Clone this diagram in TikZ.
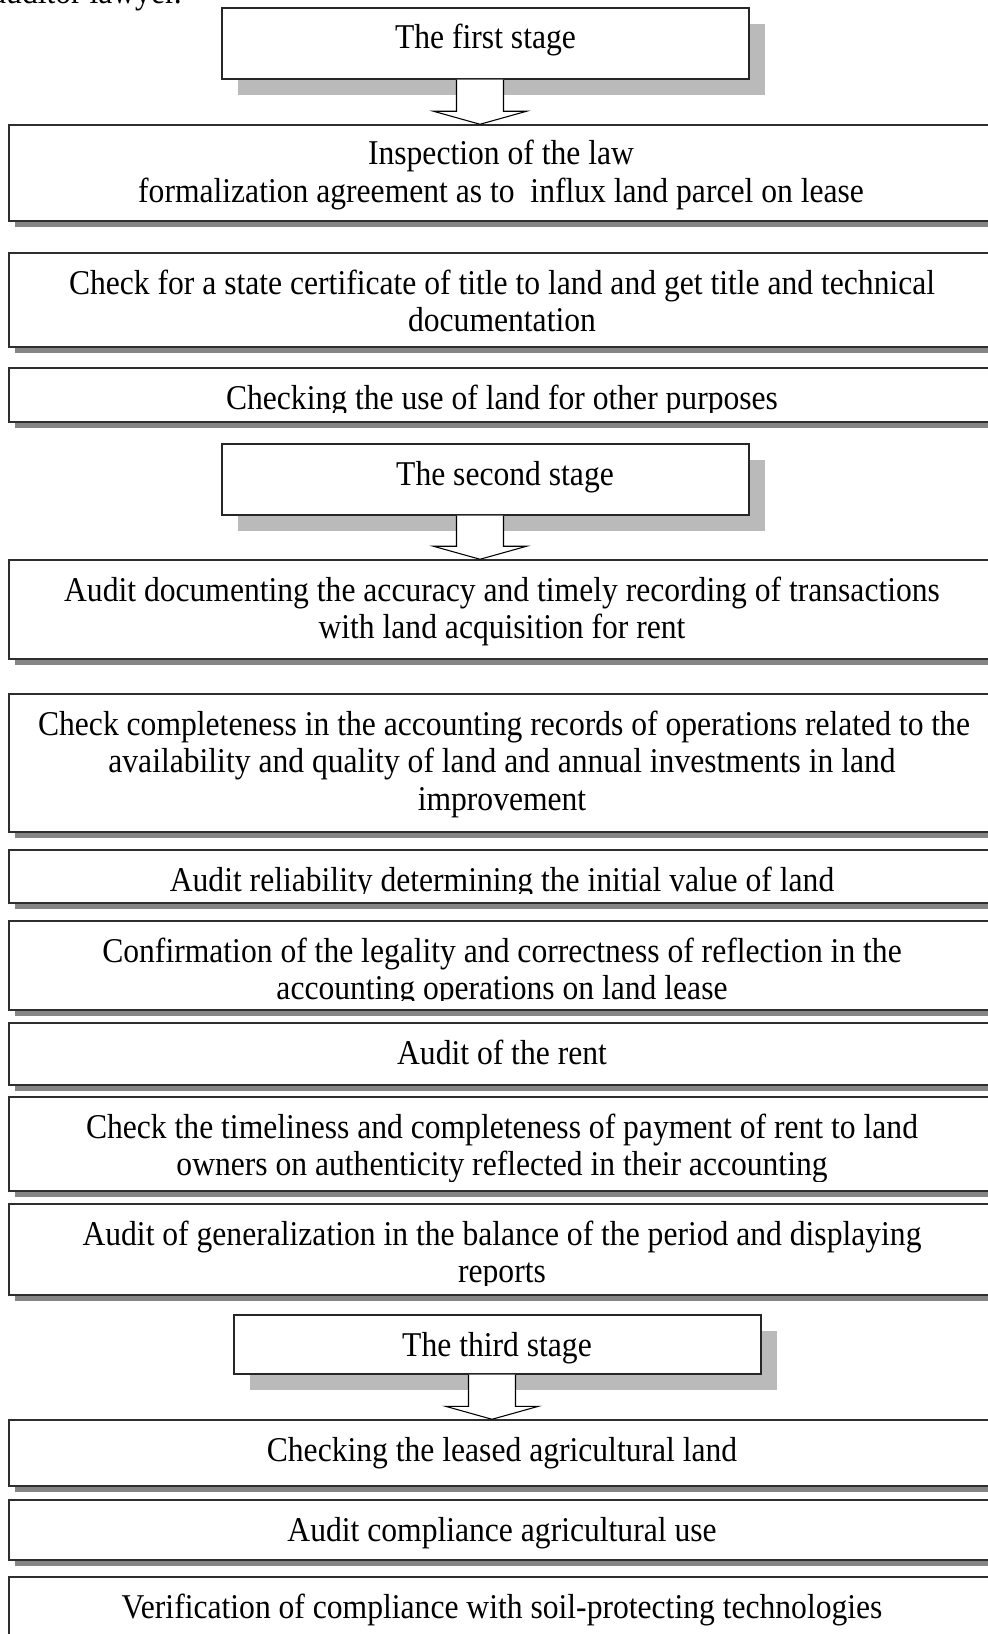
\documentclass[tikz,border=0pt]{standalone}
\usepackage{fontspec}
\setmainfont{Liberation Serif}
\usepackage{graphicx}
\usetikzlibrary{fit,calc,shadows}
\newcommand\vs[1]{\scalebox{1}[1.1]{#1}}
\newcommand\blockarrow[2]{%
  \draw[blockarr] ($(#1)+(-23.5,0)$) -- ($(#2)+(-23.5,-13)$) -- ($(#2)+(-46.5,-13)$) -- (#2)
    -- ($(#2)+(46.5,-13)$) -- ($(#2)+(23.5,-13)$) -- ($(#1)+(23.5,0)$);}
\tikzset{
  mainbox/.style={draw=black!82, line width=1.1pt, fill=white, inner sep=0pt,
    general shadow={fill=black!48, shadow xshift=4.5pt, shadow yshift=-4.5pt}},
  stagebox/.style={draw=black!85, line width=1pt, fill=white, inner sep=0pt,
    general shadow={fill=black!27, shadow xshift=12pt, shadow yshift=-12pt}},
  txt/.style={inner sep=0pt, anchor=base, font=\fontsize{23.7pt}{28pt}\selectfont},
  blockarr/.style={draw=black, line width=0.8pt, fill=white, line join=miter},
}
\begin{document}
\begin{tikzpicture}[x=0.75pt, y=-0.75pt]
\useasboundingbox (0,0) rectangle (988,1634);
\clip (0,0) rectangle (988,1634);

\node[txt, anchor=base east] (t0) at (182,4) {\vs{auditor lawyer.}};

% ---------- first stage ----------
\node[stagebox, fit={(222,8) (749,79)}] (s1) {};
\node[txt] (ts1) at (485.5,49) {\vs{The first stage}};

\node[mainbox, fit={(9,125) (997,221)}] (b1) {};
\begin{scope}\clip (9,125) rectangle (997,211);
\node[txt] (t1a) at (501,165) {\vs{Inspection of the law}};
\node[txt] (t1b) at (501,202.5) {\vs{formalization agreement as to\ \ influx land parcel on lease}};
\end{scope}
\coordinate (a1top) at ($(s1.south)+(-5.5,0)$);
\coordinate (a1tip) at (a1top |- b1.north);
\blockarrow{a1top}{a1tip}

\node[mainbox, fit={(9,253) (997,347)}] (b2) {};
\begin{scope}\clip (9,253) rectangle (997,337);
\node[txt] (t2a) at (502,294) {\vs{Check for a state certificate of title to land and get title and technical}};
\node[txt] (t2b) at (502,331.5) {\vs{documentation}};
\end{scope}

\node[mainbox, fit={(9,368) (997,422)}] (b3) {};
\begin{scope}\clip (9,368) rectangle (997,412);
\node[txt] (t3a) at (502,409) {\vs{Checking the use of land for other purposes}};
\end{scope}

% ---------- second stage ----------
\node[stagebox, fit={(222,444) (749,515)}] (s2) {};
\node[txt] (ts2) at (505,485) {\vs{The second stage}};

\node[mainbox, fit={(9,560) (997,659)}] (b4) {};
\begin{scope}\clip (9,560) rectangle (997,649);
\node[txt] (t4a) at (502,601) {\vs{Audit documenting the accuracy and timely recording of transactions}};
\node[txt] (t4b) at (502,638.5) {\vs{with land acquisition for rent}};
\end{scope}
\coordinate (a2top) at ($(s2.south)+(-5.5,0)$);
\coordinate (a2tip) at (a2top |- b4.north);
\blockarrow{a2top}{a2tip}

\node[mainbox, fit={(9,694) (997,832)}] (b5) {};
\begin{scope}\clip (9,694) rectangle (997,822);
\node[txt] (t5a) at (504,735) {\vs{Check completeness in the accounting records of operations related to the}};
\node[txt] (t5b) at (502,772.5) {\vs{availability and quality of land and annual investments in land}};
\node[txt] (t5c) at (502,810) {\vs{improvement}};
\end{scope}

\node[mainbox, fit={(9,850) (997,903)}] (b6) {};
\begin{scope}\clip (9,850) rectangle (997,893);
\node[txt] (t6a) at (502,891) {\vs{Audit reliability determining the initial value of land}};
\end{scope}

\node[mainbox, fit={(9,921) (997,1010)}] (b7) {};
\begin{scope}\clip (9,921) rectangle (997,1000);
\node[txt] (t7a) at (502,962) {\vs{Confirmation of the legality and correctness of reflection in the}};
\node[txt] (t7b) at (502,999.5) {\vs{accounting operations on land lease}};
\end{scope}

\node[mainbox, fit={(9,1023) (997,1085)}] (b8) {};
\begin{scope}\clip (9,1023) rectangle (997,1075);
\node[txt] (t8a) at (502,1064) {\vs{Audit of the rent}};
\end{scope}

\node[mainbox, fit={(9,1097) (997,1191)}] (b9) {};
\begin{scope}\clip (9,1097) rectangle (997,1181);
\node[txt] (t9a) at (502,1138) {\vs{Check the timeliness and completeness of payment of rent to land}};
\node[txt] (t9b) at (502,1175.5) {\vs{owners on authenticity reflected in their accounting}};
\end{scope}

\node[mainbox, fit={(9,1204) (997,1295)}] (b10) {};
\begin{scope}\clip (9,1204) rectangle (997,1285);
\node[txt] (t10a) at (502,1245) {\vs{Audit of generalization in the balance of the period and displaying}};
\node[txt] (t10b) at (502,1282.5) {\vs{reports}};
\end{scope}

% ---------- third stage ----------
\node[stagebox, fit={(234,1315) (761,1374)}] (s3) {};
\node[txt] (ts3) at (497,1356) {\vs{The third stage}};

\node[mainbox, fit={(9,1420) (997,1486)}] (b11) {};
\begin{scope}\clip (9,1420) rectangle (997,1476);
\node[txt] (t11a) at (502,1461) {\vs{Checking the leased agricultural land}};
\end{scope}
\coordinate (a3top) at ($(s3.south)+(-5.5,0)$);
\coordinate (a3tip) at (a3top |- b11.north);
\blockarrow{a3top}{a3tip}

\node[mainbox, fit={(9,1500) (997,1560)}] (b12) {};
\begin{scope}\clip (9,1500) rectangle (997,1550);
\node[txt] (t12a) at (502,1541) {\vs{Audit compliance agricultural use}};
\end{scope}

\node[mainbox, fit={(9,1577) (997,1700)}] (b13) {};
\node[txt] (t13a) at (502,1618) {\vs{Verification of compliance with soil-protecting technologies}};
\end{tikzpicture}
\end{document}
